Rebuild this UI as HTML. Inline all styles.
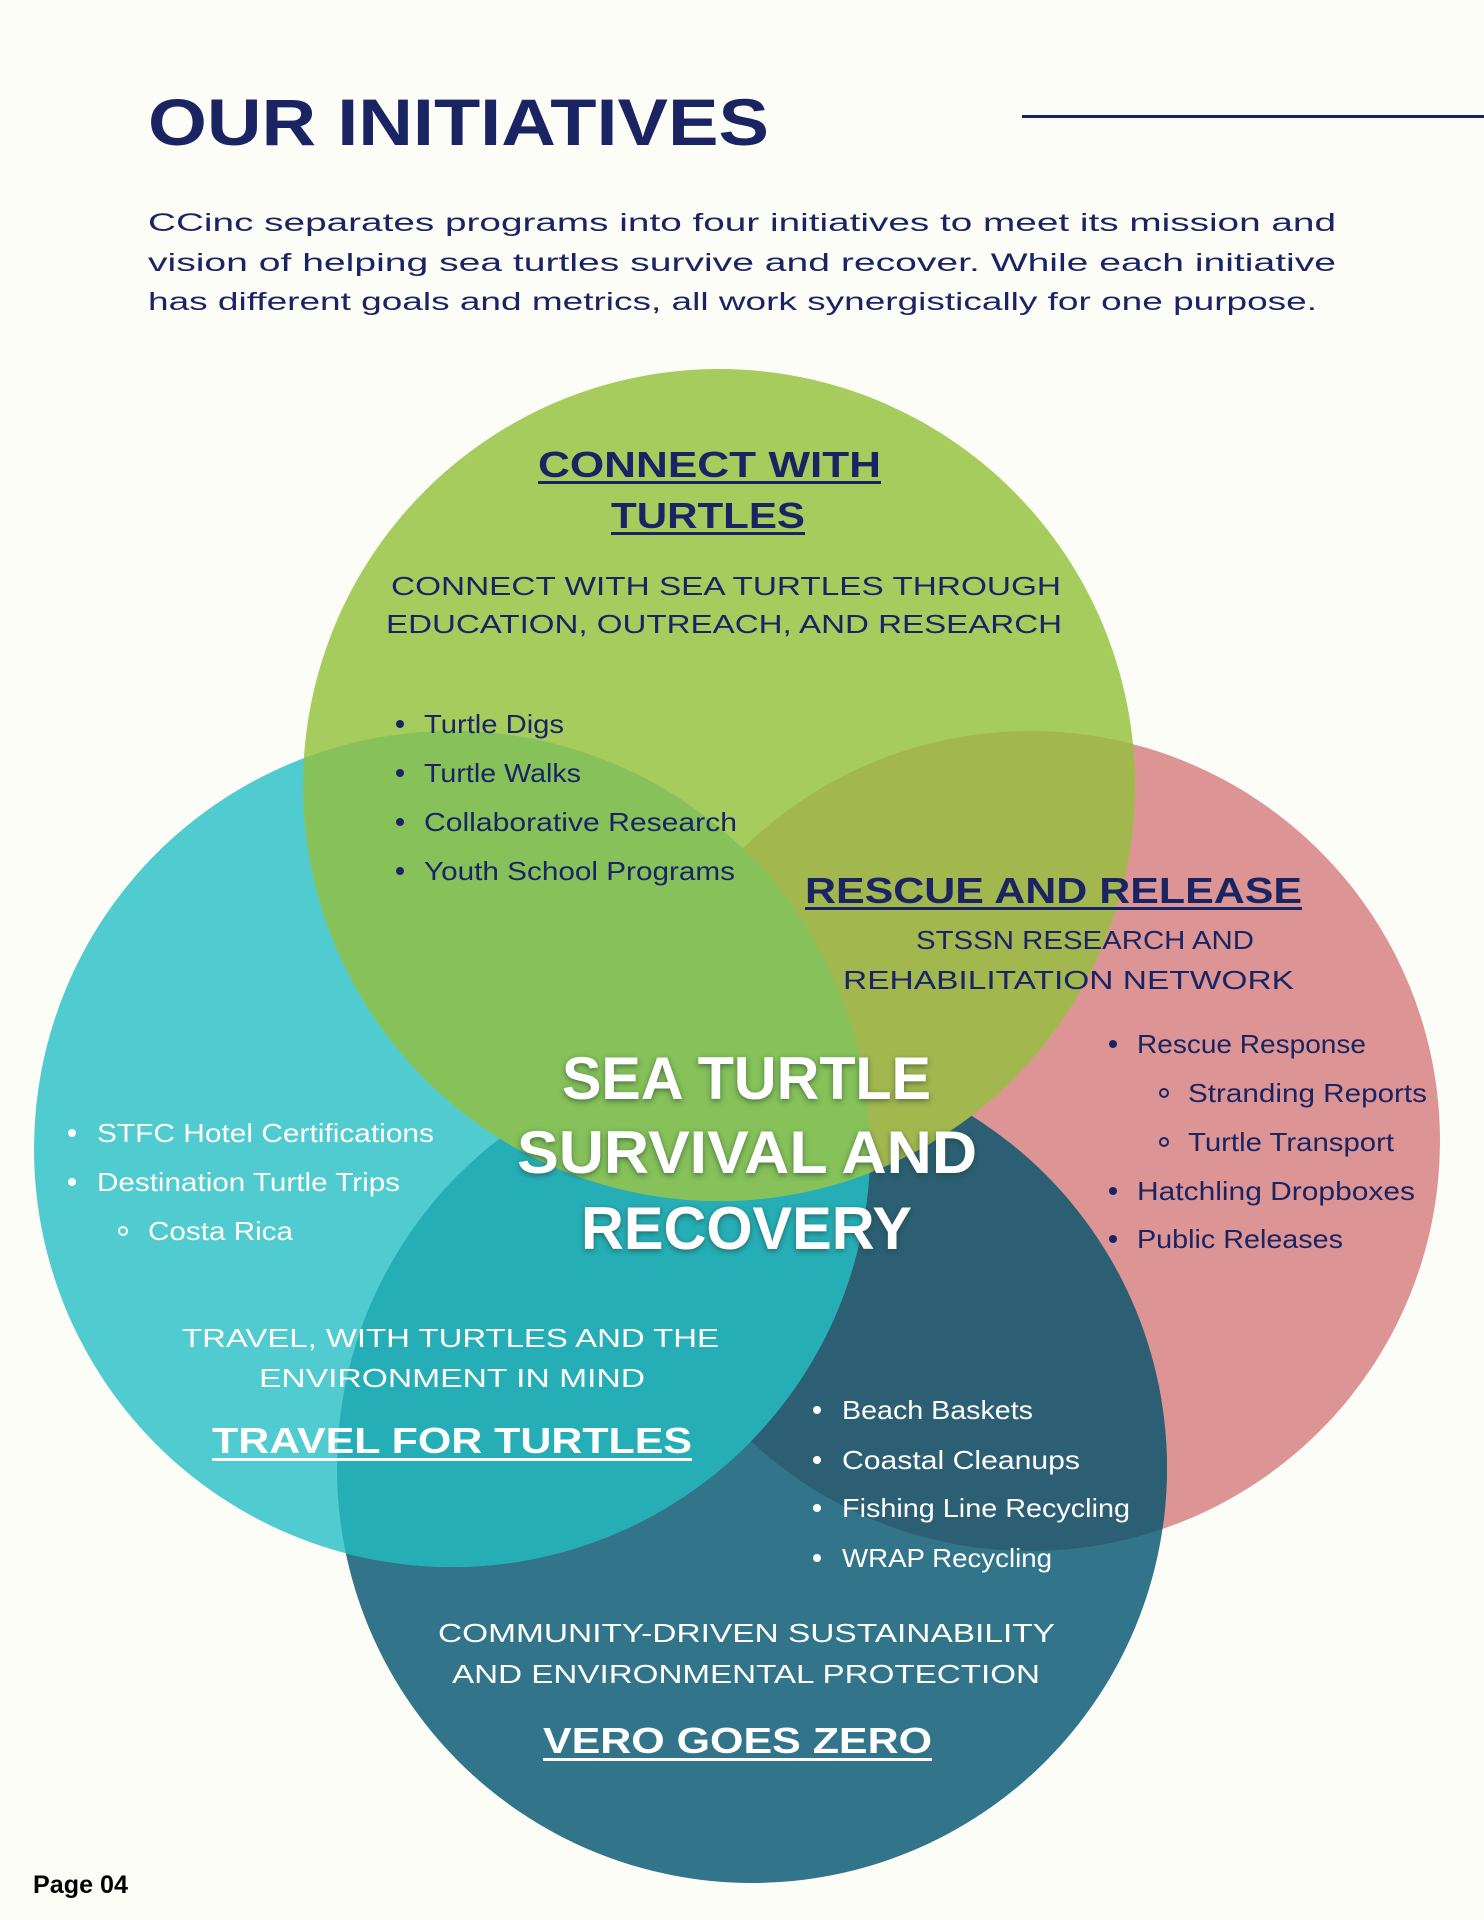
<!DOCTYPE html>
<html><head><meta charset="utf-8"><style>
html,body{margin:0;padding:0;background:#fdfdf8;}
svg{display:block;}
text{font-family:"Liberation Sans",sans-serif;}
</style></head><body>
<svg width="1484" height="1920" viewBox="0 0 1484 1920" xmlns="http://www.w3.org/2000/svg">
<defs>
<clipPath id="cG"><circle cx="719" cy="785" r="416"/></clipPath>
<clipPath id="cT"><circle cx="452" cy="1149" r="418"/></clipPath>
<clipPath id="cP"><circle cx="1030" cy="1141" r="410"/></clipPath>
<clipPath id="cD"><circle cx="752" cy="1468" r="415"/></clipPath>
<filter id="sh" x="-10%" y="-10%" width="120%" height="130%"><feDropShadow dx="0" dy="2" stdDeviation="3" flood-color="#1a3a2a" flood-opacity="0.6"/></filter>
</defs>
<rect width="1484" height="1920" fill="#fdfdf8"/>
<text x="148" y="145" font-size="66" font-weight="bold" fill="#1b2463" textLength="621" lengthAdjust="spacingAndGlyphs">OUR INITIATIVES</text>
<rect x="1022" y="115" width="462" height="3" fill="#1b2463"/>
<g font-size="25" fill="#1b2463" lengthAdjust="spacingAndGlyphs">
<text x="148" y="231" textLength="1188" lengthAdjust="spacingAndGlyphs">CCinc separates programs into four initiatives to meet its mission and</text>
<text x="148" y="271" textLength="1188" lengthAdjust="spacingAndGlyphs">vision of helping sea turtles survive and recover. While each initiative</text>
<text x="148" y="310" textLength="1169" lengthAdjust="spacingAndGlyphs">has different goals and metrics, all work synergistically for one purpose.</text>
</g>
<!-- circles -->
<circle cx="1030" cy="1141" r="410" fill="#dc9594"/>
<circle cx="752" cy="1468" r="415" fill="#327489"/>
<circle cx="752" cy="1468" r="415" fill="#2c5f74" clip-path="url(#cP)"/>
<circle cx="452" cy="1149" r="418" fill="#50cbcf"/>
<circle cx="752" cy="1468" r="415" fill="#26aeb6" clip-path="url(#cT)"/>
<circle cx="719" cy="785" r="416" fill="#a6cc5e"/>
<g clip-path="url(#cG)">
<circle cx="752" cy="1468" r="415" fill="#84c05a"/>
<circle cx="1030" cy="1141" r="410" fill="#a3b74f"/>
<circle cx="452" cy="1149" r="418" fill="#86c15a"/>
</g>
<!-- green -->
<g fill="#1b2463">
<text x="538" y="477" font-size="36" font-weight="bold" textLength="343" lengthAdjust="spacingAndGlyphs">CONNECT WITH</text>
<rect x="538" y="481" width="343" height="3"/>
<text x="611" y="528" font-size="36" font-weight="bold" textLength="194" lengthAdjust="spacingAndGlyphs">TURTLES</text>
<rect x="611" y="532" width="194" height="3"/>
<text x="391" y="595" font-size="26" textLength="670" lengthAdjust="spacingAndGlyphs">CONNECT WITH SEA TURTLES THROUGH</text>
<text x="386" y="633" font-size="26" textLength="676" lengthAdjust="spacingAndGlyphs">EDUCATION, OUTREACH, AND RESEARCH</text>
<g font-size="26">
<circle cx="400" cy="724" r="4"/><text x="424" y="733" textLength="140" lengthAdjust="spacingAndGlyphs">Turtle Digs</text>
<circle cx="400" cy="773" r="4"/><text x="424" y="782" textLength="157" lengthAdjust="spacingAndGlyphs">Turtle Walks</text>
<circle cx="400" cy="822" r="4"/><text x="424" y="831" textLength="313" lengthAdjust="spacingAndGlyphs">Collaborative Research</text>
<circle cx="400" cy="871" r="4"/><text x="424" y="880" textLength="311" lengthAdjust="spacingAndGlyphs">Youth School Programs</text>
</g>
<!-- rescue -->
<text x="805" y="903" font-size="36" font-weight="bold" textLength="497" lengthAdjust="spacingAndGlyphs">RESCUE AND RELEASE</text>
<rect x="805" y="907" width="497" height="3"/>
<text x="916" y="949" font-size="26" textLength="338" lengthAdjust="spacingAndGlyphs">STSSN RESEARCH AND</text>
<text x="843" y="989" font-size="26" textLength="451" lengthAdjust="spacingAndGlyphs">REHABILITATION NETWORK</text>
<g font-size="26">
<circle cx="1113" cy="1044" r="4"/><text x="1137" y="1053" textLength="229" lengthAdjust="spacingAndGlyphs">Rescue Response</text>
<circle cx="1164" cy="1093" r="4" fill="none" stroke="#1b2463" stroke-width="2"/><text x="1188" y="1102" textLength="239" lengthAdjust="spacingAndGlyphs">Stranding Reports</text>
<circle cx="1164" cy="1142" r="4" fill="none" stroke="#1b2463" stroke-width="2"/><text x="1188" y="1151" textLength="206" lengthAdjust="spacingAndGlyphs">Turtle Transport</text>
<circle cx="1113" cy="1191" r="4"/><text x="1137" y="1200" textLength="278" lengthAdjust="spacingAndGlyphs">Hatchling Dropboxes</text>
<circle cx="1113" cy="1239" r="4"/><text x="1137" y="1248" textLength="206" lengthAdjust="spacingAndGlyphs">Public Releases</text>
</g>
</g>
<!-- white texts -->
<g fill="#ffffff">
<g font-size="26">
<circle cx="72" cy="1133" r="4"/><text x="97" y="1142" textLength="337" lengthAdjust="spacingAndGlyphs">STFC Hotel Certifications</text>
<circle cx="72" cy="1182" r="4"/><text x="97" y="1191" textLength="303" lengthAdjust="spacingAndGlyphs">Destination Turtle Trips</text>
<circle cx="123" cy="1231" r="4" fill="none" stroke="#fff" stroke-width="2"/><text x="148" y="1240" textLength="145" lengthAdjust="spacingAndGlyphs">Costa Rica</text>
</g>
<text x="182" y="1347" font-size="26" textLength="537" lengthAdjust="spacingAndGlyphs">TRAVEL, WITH TURTLES AND THE</text>
<text x="259" y="1387" font-size="26" textLength="386" lengthAdjust="spacingAndGlyphs">ENVIRONMENT IN MIND</text>
<text x="212" y="1453" font-size="36" font-weight="bold" textLength="480" lengthAdjust="spacingAndGlyphs">TRAVEL FOR TURTLES</text>
<rect x="212" y="1458" width="480" height="3"/>
<g font-size="26">
<circle cx="817" cy="1410" r="4"/><text x="842" y="1419" textLength="191" lengthAdjust="spacingAndGlyphs">Beach Baskets</text>
<circle cx="817" cy="1460" r="4"/><text x="842" y="1469" textLength="238" lengthAdjust="spacingAndGlyphs">Coastal Cleanups</text>
<circle cx="817" cy="1508" r="4"/><text x="842" y="1517" textLength="288" lengthAdjust="spacingAndGlyphs">Fishing Line Recycling</text>
<circle cx="817" cy="1558" r="4"/><text x="842" y="1567" textLength="210" lengthAdjust="spacingAndGlyphs">WRAP Recycling</text>
</g>
<text x="438" y="1642" font-size="26" textLength="617" lengthAdjust="spacingAndGlyphs">COMMUNITY-DRIVEN SUSTAINABILITY</text>
<text x="452" y="1683" font-size="26" textLength="588" lengthAdjust="spacingAndGlyphs">AND ENVIRONMENTAL PROTECTION</text>
<text x="543" y="1753" font-size="36" font-weight="bold" textLength="389" lengthAdjust="spacingAndGlyphs">VERO GOES ZERO</text>
<rect x="543" y="1758" width="389" height="3"/>
<g filter="url(#sh)" font-size="60" font-weight="bold">
<text x="562" y="1099" textLength="369" lengthAdjust="spacingAndGlyphs">SEA TURTLE</text>
<text x="517" y="1173" textLength="460" lengthAdjust="spacingAndGlyphs">SURVIVAL AND</text>
<text x="581" y="1249" textLength="331" lengthAdjust="spacingAndGlyphs">RECOVERY</text>
</g>
</g>
<text x="33" y="1893" font-size="25" font-weight="bold" fill="#000" textLength="95" lengthAdjust="spacingAndGlyphs">Page 04</text>
</svg>
</body></html>
